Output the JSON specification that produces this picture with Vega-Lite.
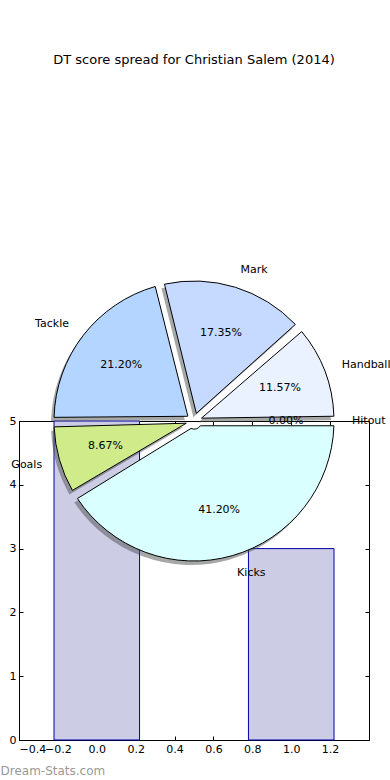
{
  "$schema": "https://vega.github.io/schema/vega-lite/v6.json",
  "width": 350,
  "height": 319,
  "autosize": "none",
  "padding": {"left": 19, "top": 421, "right": 21, "bottom": 40},
  "background": "white",
  "title": {"text": "DT score spread for Christian Salem (2014)", "frame": "group", "anchor": "middle", "offset": 197, "fontSize": 13, "fontWeight": "normal", "font": "DejaVu Sans", "color": "black"},
  "config": {
    "view": {"stroke": "black", "strokeWidth": 1},
    "axis": {"grid": false, "domain": false, "tickColor": "black", "tickSize": -4, "tickWidth": 1, "labelColor": "black", "labelFont": "DejaVu Sans", "labelFontSize": 11, "labelPadding": 7, "labelOverlap": false}
  },
  "datasets": {
    "bars": [
      {"left": -0.22, "right": 0.22, "height": 5},
      {"left": 0.78, "right": 1.22, "height": 3}
    ],
    "pie": [
      {"stat": "Hitout", "share": 0, "rank": 1},
      {"stat": "Handball", "share": 0.1157, "rank": 2},
      {"stat": "Mark", "share": 0.1735, "rank": 3},
      {"stat": "Tackle", "share": 0.2120, "rank": 4},
      {"stat": "Goals", "share": 0.0867, "rank": 5},
      {"stat": "Kicks", "share": 0.4120, "rank": 6}
    ]
  },
  "layer": [
    {
      "data": {"name": "bars"},
      "mark": {"type": "bar", "fill": "#ccccE5", "stroke": "#0000aa", "strokeWidth": 1},
      "encoding": {
        "x": {"field": "left", "type": "quantitative", "scale": {"domain": [-0.4, 1.4], "nice": false, "zero": false},
              "axis": {"orient": "bottom", "values": [-0.4, -0.2, 0, 0.2, 0.4, 0.6, 0.8, 1.0, 1.2], "format": ".1f",
                       "title": "Dream-Stats.com", "titleAnchor": "start", "titleAlign": "left", "titleX": -19, "titleY": 30, "titleBaseline": "middle",
                       "titleColor": "#999999", "titleFont": "DejaVu Sans", "titleFontSize": 12, "titleFontWeight": "normal"}},
        "x2": {"field": "right"},
        "y": {"field": "height", "type": "quantitative", "scale": {"domain": [0, 5], "nice": false},
              "axis": {"orient": "left", "values": [0, 1, 2, 3, 4, 5], "format": "d", "title": null}},
        "y2": {"datum": 0}
      }
    },
    {
      "data": {"name": "bars"},
      "mark": {"type": "bar", "opacity": 0},
      "encoding": {
        "x": {"field": "left", "type": "quantitative",
              "axis": {"orient": "top", "values": [-0.4, -0.2, 0, 0.2, 0.4, 0.6, 0.8, 1.0, 1.2], "labels": false, "title": null}},
        "x2": {"field": "right"},
        "y": {"field": "height", "type": "quantitative",
              "axis": {"orient": "right", "values": [0, 1, 2, 3, 4, 5], "labels": false, "title": null}},
        "y2": {"datum": 0}
      }
    },
    {
      "data": {"name": "pie"},
      "transform": [{"filter": "datum.share > 0"}],
      "mark": {"type": "arc", "outerRadius": 140, "innerRadius": 8, "padAngle": 0.068, "fill": "#4d5050", "opacity": 0.5, "xOffset": -3, "yOffset": 4},
      "encoding": {
        "x": {"datum": 0.5, "type": "quantitative", "axis": null},
        "y": {"datum": 5, "type": "quantitative", "axis": null},
        "theta": {"field": "share", "type": "quantitative", "stack": true, "scale": {"range": [1.5708, -4.7124]}},
        "order": {"field": "rank", "type": "quantitative"}
      }
    },
    {
      "data": {"name": "pie"},
      "transform": [{"filter": "datum.share > 0"}],
      "mark": {"type": "arc", "outerRadius": 140, "innerRadius": 8, "padAngle": 0.068, "stroke": "black", "strokeWidth": 1},
      "encoding": {
        "x": {"datum": 0.5, "type": "quantitative", "axis": null},
        "y": {"datum": 5, "type": "quantitative", "axis": null},
        "theta": {"field": "share", "type": "quantitative", "stack": true},
        "order": {"field": "rank", "type": "quantitative"},
        "color": {"field": "stat", "type": "nominal", "legend": null,
                  "scale": {"domain": ["Handball", "Mark", "Tackle", "Goals", "Kicks", "Hitout"],
                            "range": ["#ebf2ff", "#c6d9ff", "#b3d5ff", "#d0eb8a", "#d9ffff", "#ffffff"]}}
      }
    },
    {
      "data": {"name": "pie"},
      "mark": {"type": "text", "radius": 158, "baseline": "middle", "font": "DejaVu Sans", "fontSize": 11, "color": "black",
               "align": {"expr": "datum.stat === 'Tackle' || datum.stat === 'Goals' ? 'right' : 'left'"}},
      "encoding": {
        "x": {"datum": 0.5, "type": "quantitative", "axis": null},
        "y": {"datum": 5, "type": "quantitative", "axis": null},
        "theta": {"field": "share", "type": "quantitative", "stack": true},
        "order": {"field": "rank", "type": "quantitative"},
        "text": {"field": "stat", "type": "nominal"}
      }
    },
    {
      "data": {"name": "pie"},
      "mark": {"type": "text", "radius": 92, "align": "center", "baseline": "middle", "font": "DejaVu Sans", "fontSize": 11, "color": "black"},
      "encoding": {
        "x": {"datum": 0.5, "type": "quantitative", "axis": null},
        "y": {"datum": 5, "type": "quantitative", "axis": null},
        "theta": {"field": "share", "type": "quantitative", "stack": true},
        "order": {"field": "rank", "type": "quantitative"},
        "text": {"field": "share", "type": "quantitative", "format": ".2%"}
      }
    }
  ]
}
